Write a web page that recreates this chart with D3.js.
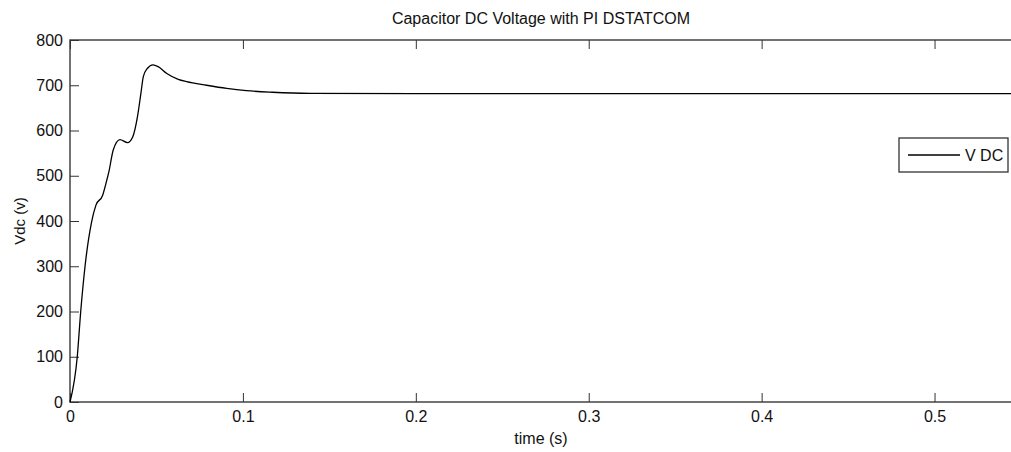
<!DOCTYPE html>
<html>
<head>
<meta charset="utf-8">
<script src="https://cdn.jsdelivr.net/npm/d3@7"></script>
<style>
  body { margin: 0; background: #fff; }
  svg { display: block; font-family: "Liberation Sans", Arial, sans-serif; }
  .narrow { font-family: "Liberation Sans Narrow", "Arial Narrow", "Liberation Sans", sans-serif; }
</style>
</head>
<body>
<div id="chart"></div>
<script>
// values
var timeS = [0, 0.0042, 0.0062, 0.0087, 0.0125, 0.015, 0.0189, 0.0208, 0.0225, 0.025, 0.0289,
    0.0333, 0.0362, 0.039, 0.041, 0.0424, 0.0447, 0.048, 0.051, 0.056, 0.0626, 0.0674, 0.079,
    0.0906, 0.102, 0.117, 0.139, 0.2, 0.3, 0.4, 0.5, 0.55];
var vdc = [0, 100, 200, 300, 398, 435, 457, 483, 509, 557, 580,
    573, 585, 630, 682, 719, 737, 745, 741, 726, 713, 708, 700,
    693, 688, 684.5, 682, 681.5, 681.5, 681.5, 681.5, 681.5];
var xTicks = [0, 0.1, 0.2, 0.3, 0.4, 0.5];
var yTicks = [0, 100, 200, 300, 400, 500, 600, 700, 800];
var seriesName = "V DC";

function plotVdc() {
    var margin = {top: 40, right: -10, bottom: 50, left: 70},
        W = 1011, H = 452,
        width = W - margin.left - margin.right,
        height = H - margin.top - margin.bottom;

    var x = d3.scaleLinear().domain([0, 0.55]).range([0, width]);
    var y = d3.scaleLinear().domain([0, 800]).range([height, 0]);

    var svg = d3.select("#chart").append("svg")
        .attr("width", W)
        .attr("height", H);

    var g = svg.append("g")
        .attr("transform", "translate(" + margin.left + "," + margin.top + ")");

    var data = timeS.map(function(t, i) {
        return {t: t, v: vdc[i]};
    });

    // frame
    g.append("rect")
        .attr("width", width)
        .attr("height", height)
        .attr("fill", "none")
        .attr("stroke", "#444")
        .attr("stroke-width", 1.5);

    var xAxis = d3.axisBottom(x).tickValues(xTicks).tickSize(-9).tickPadding(6)
        .tickFormat(function(d) { return d === 0 ? "0" : d3.format(".1f")(d); });
    var yAxis = d3.axisLeft(y).tickValues(yTicks).tickSize(-9).tickPadding(6);

    var gx = g.append("g")
        .attr("transform", "translate(0," + height + ")")
        .call(xAxis);
    var gy = g.append("g").call(yAxis);

    // mirrored ticks on top and right
    g.append("g").call(d3.axisTop(x).tickValues(xTicks).tickSize(-9).tickFormat(""));
    g.append("g").attr("transform", "translate(" + width + ",0)")
        .call(d3.axisRight(y).tickValues(yTicks).tickSize(-9).tickFormat(""));

    g.selectAll(".domain").remove();
    g.selectAll(".tick line").attr("stroke", "#333");
    g.selectAll(".tick text")
        .attr("class", "narrow")
        .attr("fill", "#111")
        .style("font-size", "16px");
    gx.selectAll(".tick text").attr("dy", "0.85em");
    gy.selectAll(".tick text").attr("x", -7);

    var line = d3.line()
        .x(function(d) { return x(d.t); })
        .y(function(d) { return y(d.v); })
        .curve(d3.curveMonotoneX);

    g.append("path")
        .datum(data)
        .attr("fill", "none")
        .attr("stroke", "#000")
        .attr("stroke-width", 1.3)
        .attr("d", line);

    svg.append("text")
        .attr("x", 541)
        .attr("y", 24)
        .attr("text-anchor", "middle")
        .style("font-size", "16px")
        .attr("fill", "#111")
        .text("Capacitor DC Voltage with PI DSTATCOM");

    svg.append("text")
        .attr("class", "narrow")
        .attr("x", 541)
        .attr("y", 444)
        .attr("text-anchor", "middle")
        .style("font-size", "16px")
        .attr("fill", "#111")
        .text("time (s)");

    svg.append("text")
        .attr("transform", "translate(25," + (margin.top + height / 2) + ") rotate(-90)")
        .attr("text-anchor", "middle")
        .style("font-size", "15px")
        .attr("fill", "#111")
        .text("Vdc (v)");

    // legend
    var legend = svg.append("g").attr("transform", "translate(899,138)");
    legend.append("rect")
        .attr("width", 109)
        .attr("height", 34)
        .attr("fill", "#fff")
        .attr("stroke", "#333")
        .attr("stroke-width", 1.3);
    legend.append("line")
        .attr("x1", 9).attr("x2", 61)
        .attr("y1", 17).attr("y2", 17)
        .attr("stroke", "#000")
        .attr("stroke-width", 1.3);
    legend.append("text")
        .attr("x", 66)
        .attr("y", 17)
        .attr("dy", "0.35em")
        .style("font-size", "16px")
        .attr("fill", "#111")
        .text(seriesName);
}

plotVdc();
</script>
</body>
</html>
